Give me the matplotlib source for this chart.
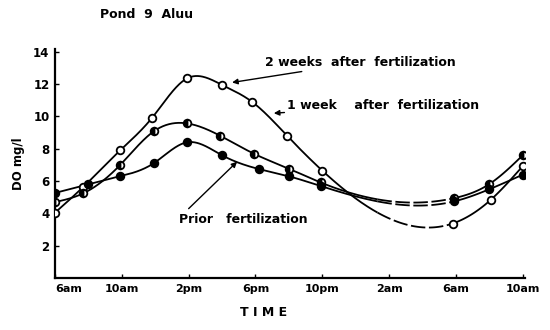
import numpy as np
import matplotlib
matplotlib.use('Agg')
import matplotlib.pyplot as plt

# ================= DATA =================
# hours after 6am, DO in mg/l
tick_hours = [0, 4, 8, 12, 16, 20, 24, 28]
tick_labels = ['6am', '10am', '2pm', '6pm', '10pm', '2am', '6am', '10am']

hrs_2wk = [0, 1.7, 3.9, 5.8, 7.9, 10.0, 11.8, 13.9, 16.0, 23.8, 26.1, 28]
do_2wk = [4.05, 5.65, 7.9, 9.9, 12.35, 11.95, 10.9, 8.8, 6.65, 3.38, 4.86, 6.93]

hrs_1wk = [0, 1.7, 3.9, 5.9, 7.9, 9.9, 11.9, 14.0, 15.9, 23.9, 26.0, 28]
do_1wk = [4.7, 5.25, 7.0, 9.07, 9.57, 8.8, 7.7, 6.77, 5.92, 4.95, 5.82, 7.6]

hrs_prior = [0, 2.0, 3.9, 5.9, 7.9, 10.0, 12.2, 14.0, 15.9, 23.9, 26.0, 28]
do_prior = [5.27, 5.8, 6.3, 7.1, 8.4, 7.6, 6.75, 6.3, 5.7, 4.75, 5.5, 6.4]

NIGHT = (19.3, 24.0)   # hand drawn dashed part


def natural_spline(x, y, xs):
    """natural cubic spline, numpy only"""
    x = np.asarray(x, float)
    y = np.asarray(y, float)
    n = len(x)
    h = np.diff(x)
    A = np.zeros((n, n))
    r = np.zeros(n)
    A[0, 0] = A[-1, -1] = 1
    for i in range(1, n - 1):
        A[i, i - 1] = h[i - 1]
        A[i, i] = 2 * (h[i - 1] + h[i])
        A[i, i + 1] = h[i]
        r[i] = 3 * ((y[i + 1] - y[i]) / h[i] - (y[i] - y[i - 1]) / h[i - 1])
    c = np.linalg.solve(A, r)
    b = (y[1:] - y[:-1]) / h - h * (2 * c[:-1] + c[1:]) / 3
    d = (c[1:] - c[:-1]) / (3 * h)
    idx = np.clip(np.searchsorted(x, xs) - 1, 0, n - 2)
    t = xs - x[idx]
    return y[idx] + b[idx] * t + c[idx] * t ** 2 + d[idx] * t ** 3


def draw_curve(ax, hrs, vals, marker_kw):
    xs = np.linspace(hrs[0], hrs[-1], 600)
    ys = natural_spline(hrs, vals, xs)
    night = (xs >= NIGHT[0]) & (xs <= NIGHT[1])
    day1 = xs <= NIGHT[0]
    day2 = xs >= NIGHT[1]
    ax.plot(xs[day1], ys[day1], 'k-', lw=1.3)
    ax.plot(xs[day2], ys[day2], 'k-', lw=1.3)
    ax.plot(xs[night], ys[night], 'k-', lw=1.3, dashes=(8, 2))
    ax.plot(hrs, vals, 'o', ms=5.5, mec='k', mew=1.3, zorder=5, **marker_kw)


# ================= PLOT =================
fig = plt.figure(figsize=(5.5, 3.3), dpi=100)
ax = fig.add_axes([0.1, 0.157, 0.855, 0.696])

draw_curve(ax, hrs_2wk, do_2wk, dict(mfc='white'))
draw_curve(ax, hrs_1wk, do_1wk, dict(mfc='k', fillstyle='left', markerfacecoloralt='white'))
draw_curve(ax, hrs_prior, do_prior, dict(mfc='k'))

ax.set_xlim(0, 28.15)
ax.set_ylim(0, 14.2)
ax.set_xticks(tick_hours)
ax.set_xticklabels(tick_labels, fontsize=8, fontweight='bold')
ax.get_xticklabels()[0].set_ha('left')
ax.set_yticks([2, 4, 6, 8, 10, 12, 14])
ax.set_yticklabels(['2', '4', '6', '8', '10', '12', '14'], fontsize=8.5, fontweight='bold')
ax.tick_params(axis='x', direction='in', length=3, width=1, pad=4)
ax.tick_params(axis='y', direction='in', length=3, width=1, pad=4)
for s in ['top', 'right']:
    ax.spines[s].set_visible(False)
for s in ['left', 'bottom']:
    ax.spines[s].set_linewidth(1.6)
ax.patch.set_alpha(0)

ax.set_ylabel('DO mg/l', fontsize=8.5, fontweight='bold', labelpad=6)

arrow = dict(arrowstyle='-|>', lw=1.0, color='k', mutation_scale=8, shrinkA=0, shrinkB=0)
ax.annotate('2 weeks  after  fertilization', xy=(10.6, 12.1), xytext=(12.6, 13.35),
            fontsize=9, fontweight='bold', va='center', arrowprops=arrow)
ax.annotate('1 week    after  fertilization', xy=(13.1, 10.2), xytext=(13.9, 10.65),
            fontsize=9, fontweight='bold', va='center', arrowprops=arrow)
ax.text(7.4, 3.6, 'Prior   fertilization', fontsize=9, fontweight='bold', va='center')
ax.annotate('', xy=(10.9, 7.2), xytext=(8.0, 4.3), arrowprops=arrow)

fig.text(100 / 550, 1 - 15 / 330, 'Pond  9  Aluu', fontsize=9, fontweight='bold', va='center')
fig.text(264 / 550, 1 - 313 / 330, 'T I M E', fontsize=9, fontweight='bold', ha='center', va='center')

fig.savefig('out.png', dpi=100)
